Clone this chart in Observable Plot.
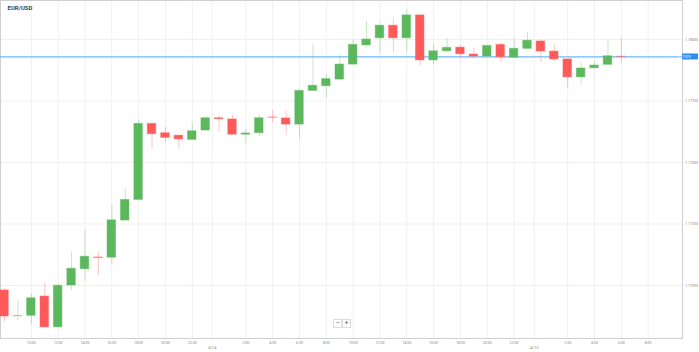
<!DOCTYPE html>
<html>
<head>
<meta charset="utf-8">
<script src="https://cdn.jsdelivr.net/npm/d3@7"></script>
<script src="https://cdn.jsdelivr.net/npm/@observablehq/plot@0.6"></script>
<style>
  html, body { margin: 0; padding: 0; background: #fff; }
  #wrap { position: relative; width: 699px; height: 352px; font-family: Roboto, "Open Sans", sans-serif; }
  .zbtn { position: absolute; top: 319px; width: 7px; height: 7px; border: 1px solid #ddd; background: #fff;
          font-size: 7px; line-height: 7px; text-align: center; color: #555; }
</style>
</head>
<body>
<div id="wrap"></div>
<script>
const title = "EUR/USD";
const times = [
  "2021-04-13T08:00Z","2021-04-13T09:00Z","2021-04-13T10:00Z","2021-04-13T11:00Z","2021-04-13T12:00Z","2021-04-13T13:00Z",
  "2021-04-13T14:00Z","2021-04-13T15:00Z","2021-04-13T16:00Z","2021-04-13T17:00Z","2021-04-13T18:00Z","2021-04-13T19:00Z",
  "2021-04-13T20:00Z","2021-04-13T21:00Z","2021-04-13T22:00Z","2021-04-13T23:00Z",
  "2021-04-14T00:00Z","2021-04-14T01:00Z","2021-04-14T02:00Z","2021-04-14T03:00Z","2021-04-14T04:00Z","2021-04-14T05:00Z",
  "2021-04-14T06:00Z","2021-04-14T07:00Z","2021-04-14T08:00Z","2021-04-14T09:00Z","2021-04-14T10:00Z","2021-04-14T11:00Z",
  "2021-04-14T12:00Z","2021-04-14T13:00Z","2021-04-14T14:00Z","2021-04-14T15:00Z","2021-04-14T16:00Z","2021-04-14T17:00Z",
  "2021-04-14T18:00Z","2021-04-14T19:00Z","2021-04-14T20:00Z","2021-04-14T21:00Z","2021-04-14T22:00Z","2021-04-14T23:00Z",
  "2021-04-15T00:00Z","2021-04-15T01:00Z","2021-04-15T02:00Z","2021-04-15T03:00Z","2021-04-15T04:00Z","2021-04-15T05:00Z",
  "2021-04-15T06:00Z"
];
const open = [
  1.16980,1.16875,1.16877,1.16955,1.16830,1.17000,1.17066,1.17114,1.17113,1.17264,1.17348,1.17657,1.17619,1.17609,1.17592,1.17630,
  1.17680,1.17675,1.17613,1.17619,1.17683,1.17679,1.17654,1.17791,1.17810,1.17837,1.17898,1.17976,1.18005,1.18056,1.18005,1.18098,
  1.17915,1.17952,1.17967,1.17939,1.17931,1.17978,1.17926,1.17962,
  1.17992,1.17951,1.17919,1.17846,1.17883,1.17897,1.17930
];
const high = [
  1.16988,1.16936,1.16966,1.17011,1.17004,1.17135,1.17224,1.17138,1.17328,1.17393,1.17671,1.17660,1.17643,1.17609,1.17661,1.17680,
  1.17691,1.17691,1.17634,1.17694,1.17711,1.17711,1.17791,1.17978,1.17857,1.17935,1.17999,1.18073,1.18066,1.18088,1.18121,1.18098,
  1.17983,1.18005,1.17976,1.17965,1.17974,1.17985,1.18005,1.18028,
  1.17999,1.17980,1.17919,1.17905,1.17911,1.17996,1.18005
];
const low = [
  1.16851,1.16855,1.16841,1.16824,1.16828,1.16980,1.17017,1.17041,1.17084,1.17264,1.17348,1.17554,1.17581,1.17556,1.17592,1.17626,
  1.17623,1.17613,1.17576,1.17606,1.17661,1.17609,1.17596,1.17791,1.17761,1.17837,1.17898,1.17966,1.17942,1.17948,1.17946,1.17890,
  1.17897,1.17948,1.17922,1.17919,1.17931,1.17911,1.17926,1.17962,
  1.17907,1.17911,1.17802,1.17816,1.17883,1.17897,1.17901
];
const close = [
  1.16874,1.16876,1.16948,1.16830,1.16999,1.17068,1.17117,1.17112,1.17265,1.17348,1.17657,1.17615,1.17600,1.17594,1.17627,1.17680,
  1.17676,1.17613,1.17618,1.17680,1.17682,1.17654,1.17791,1.17812,1.17839,1.17898,1.17978,1.18000,1.18056,1.18005,1.18098,1.17915,
  1.17952,1.17966,1.17940,1.17931,1.17974,1.17928,1.17962,1.17995,
  1.17951,1.17919,1.17846,1.17882,1.17894,1.17932,1.17929
];
const yTicks = [1.17000, 1.17250, 1.17500, 1.17750, 1.18000];
const dateLabels = ["4/14", "4/15"];

const GREEN = "#5cb85c", RED = "#ff5a5a";
const HOUR = 3600e3;
const halfBody = 19 * 60e3;
const data = times.map((t, i) => ({
  t: new Date(t), o: open[i], h: high[i], l: low[i], c: close[i],
  up: close[i] >= open[i]
}));
const xDomain = [new Date(Date.parse(times[0]) - 0.3 * HOUR), new Date(Date.parse(times[times.length - 1]) + 4.56 * HOUR)];
const yDomain = [1.167846, 1.181585];

// two-hour grid ticks; the midnight ones are drawn a little earlier, as in the source chart
const gridTicks = d3.utcHour.every(2).range(new Date("2021-04-13T10:00Z"), new Date("2021-04-15T09:00Z"));
const isMidnight = d => d.getUTCHours() === 0;
const gridPos = d => isMidnight(d) ? new Date(+d - 0.5 * HOUR) : d;
const midnights = gridTicks.filter(isMidnight);
const lastClose = close[close.length - 1];

const chart = Plot.plot({
  width: 699, height: 352,
  marginLeft: 0, marginRight: 17, marginTop: 0, marginBottom: 14,
  style: { fontFamily: "Roboto, sans-serif", fontSize: "3.6px", background: "#fff", color: "#888", overflow: "visible" },
  x: { type: "utc", domain: xDomain, ticks: gridTicks.filter(d => !isMidnight(d)), tickFormat: d3.utcFormat("%-H:00"), tickSize: 0, tickPadding: 3, label: null },
  y: { domain: yDomain, axis: "right", ticks: yTicks, tickFormat: d3.format(".5f"), tickSize: 0, tickPadding: 2.5, label: null },
  marks: [
    Plot.ruleY(yTicks, { stroke: "#f0f0f0" }),
    Plot.ruleX(gridTicks, { x: gridPos, stroke: "#f0f0f0" }),
    Plot.frame({ stroke: "#cfcfcf" }),
    Plot.ruleY([lastClose], { stroke: "#6ab8f7", strokeWidth: 1.2 }),
    Plot.ruleX(data, { x: "t", y1: "l", y2: "h", stroke: d => d.up ? GREEN : RED, strokeOpacity: 0.35, strokeWidth: 1 }),
    Plot.rect(data, {
      x1: d => new Date(+d.t - halfBody), x2: d => new Date(+d.t + halfBody),
      y1: d => Math.min(d.o, d.c), y2: d => Math.max(d.o, d.c),
      fill: d => d.up ? GREEN : RED, stroke: d => d.up ? GREEN : RED, strokeOpacity: 0.45, strokeWidth: 1
    }),
    Plot.text(midnights, { x: gridPos, frameAnchor: "bottom", dy: 4.5, text: () => "'", fill: "#999", fontSize: 4 }),
    Plot.text(midnights, { x: gridPos, frameAnchor: "bottom", dy: 10, text: (d, i) => dateLabels[i], fill: "#888", fontSize: 4 }),
    Plot.text([title], { frameAnchor: "top-left", dx: 7, dy: 5, text: d => d, fill: "#444", fontWeight: "bold", fontSize: 6, textAnchor: "start" })
  ]
});
document.getElementById("wrap").appendChild(chart);

// current-price badge on the right axis
const py = chart.scale("y").apply(lastClose);
const svg = d3.select(chart);
svg.append("rect").attr("x", 682).attr("y", py - 3).attr("width", 16).attr("height", 6).attr("fill", "#2a8ff0");
svg.append("text").attr("x", 684).attr("y", py).attr("dy", "0.35em").attr("fill", "#fff")
  .attr("font-size", 3.5).attr("font-family", "Roboto, sans-serif").text(d3.format(".5f")(lastClose));

// zoom buttons
const wrap = document.getElementById("wrap");
[["−", 333], ["+", 342]].forEach(([s, left]) => {
  const b = document.createElement("div");
  b.className = "zbtn"; b.style.left = left + "px"; b.textContent = s;
  wrap.appendChild(b);
});
</script>
</body>
</html>
